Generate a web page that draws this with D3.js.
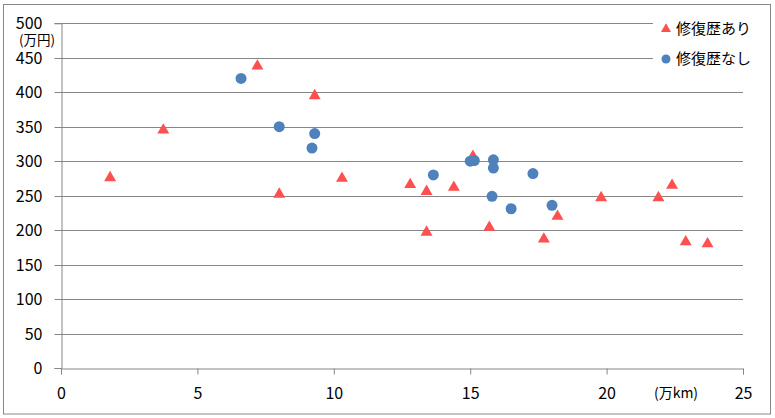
<!DOCTYPE html>
<html><head><meta charset="utf-8">
<script src="https://cdn.jsdelivr.net/npm/d3@7"></script>
<style>body{margin:0;background:#fff}svg{display:block}text{font-family:"Noto Sans CJK JP","Noto Sans",sans-serif}</style>
</head><body>
<script>
// 修復歴あり (triangles): distance (万km), price (万円)
const withRepairX = [1.8, 3.75, 7.2, 8.0, 9.3, 10.3, 12.8, 13.4, 13.4, 14.4, 15.1, 15.7, 17.7, 18.2, 19.8, 21.9, 22.4, 22.9, 23.7];
const withRepairY = [276, 345, 438, 252, 395, 275, 266, 256, 197, 262, 307, 204, 187, 220, 247, 247, 265, 183, 180];
// 修復歴なし (circles)
const noRepairX = [6.6, 8.0, 9.3, 9.2, 13.65, 15.0, 15.15, 15.85, 15.85, 17.3, 15.8, 16.5, 18.0];
const noRepairY = [420, 350, 340, 319, 280, 300, 301, 302, 290, 282, 249, 231, 236];
const xTicks = [0, 5, 10, 15, 20, 25];
const yTicks = [0, 50, 100, 150, 200, 250, 300, 350, 400, 450, 500];
const seriesNames = ["修復歴あり", "修復歴なし"];
const colors = ["#FF4F4F", "#4F81BD"];

const W = 775, H = 418;
const svg = d3.select("body").append("svg").attr("width", W).attr("height", H);
svg.append("rect").attr("x", 3.5).attr("y", 4.5).attr("width", 767).attr("height", 409.5)
  .attr("fill", "#fff").attr("stroke", "#888").attr("stroke-width", 1);

const x = d3.scaleLinear().domain([0, 25]).range([61, 743]);
const y = d3.scaleLinear().domain([0, 500]).range([368, 23.3]);
const grey = "#868686";

// gridlines
svg.append("g").selectAll("line").data(yTicks.filter(d => d > 0)).join("line")
  .attr("x1", x(0)).attr("x2", d => d >= 450 ? 653 : x(25))
  .attr("y1", d => Math.round(y(d)) + 0.5).attr("y2", d => Math.round(y(d)) + 0.5)
  .attr("stroke", grey).attr("stroke-width", 1);

// y axis
const yAxis = svg.append("g").attr("transform", `translate(${x(0) + 0.5},0)`)
  .call(d3.axisLeft(y).tickValues(yTicks).tickSize(7).tickPadding(12).tickFormat(d3.format("d")));
yAxis.select(".domain").attr("stroke", grey);
yAxis.selectAll(".tick line").attr("stroke", grey);
yAxis.selectAll(".tick text").attr("font-size", 16).attr("fill", "#000");
yAxis.selectAll(".tick").attr("transform", d => `translate(0,${Math.round(y(d)) + 0.5})`);

// x axis
const xAxis = svg.append("g").attr("transform", `translate(0,${Math.round(y(0)) + 0.5})`)
  .call(d3.axisBottom(x).tickValues(xTicks).tickSize(6).tickPadding(13).tickFormat(d3.format("d")));
xAxis.select(".domain").attr("stroke", grey);
xAxis.selectAll(".tick line").attr("stroke", grey);
xAxis.selectAll(".tick text").attr("font-size", 16).attr("fill", "#000");

// unit labels
svg.append("text").attr("x", 37).attr("y", 45).attr("text-anchor", "middle")
  .attr("font-size", 13.5).attr("fill", "#000").text("(万円)");
svg.append("text").attr("x", 676).attr("y", 398).attr("text-anchor", "middle")
  .attr("font-size", 14).attr("fill", "#000").text("(万km)");

// points
const tri = d3.symbol().type(d3.symbolTriangle).size(62);
const circ = d3.symbol().type(d3.symbolCircle).size(95);
svg.append("g").selectAll("path").data(d3.range(withRepairX.length)).join("path")
  .attr("d", tri).attr("fill", colors[0])
  .attr("transform", i => `translate(${x(withRepairX[i])},${y(withRepairY[i])})`);
svg.append("g").selectAll("path").data(d3.range(noRepairX.length)).join("path")
  .attr("d", circ).attr("fill", colors[1])
  .attr("transform", i => `translate(${x(noRepairX[i])},${y(noRepairY[i])})`);

// legend
const lg = svg.append("g");
lg.append("path").attr("d", d3.symbol().type(d3.symbolTriangle).size(44)).attr("fill", colors[0])
  .attr("transform", "translate(666,29)");
lg.append("path").attr("d", d3.symbol().type(d3.symbolCircle).size(64)).attr("fill", colors[1])
  .attr("transform", "translate(666,59)");
lg.selectAll("text").data(seriesNames).join("text")
  .attr("x", 676).attr("y", (d, i) => 34 + i * 30).attr("font-size", 15).attr("fill", "#000").text(d => d);
</script>
</body></html>
